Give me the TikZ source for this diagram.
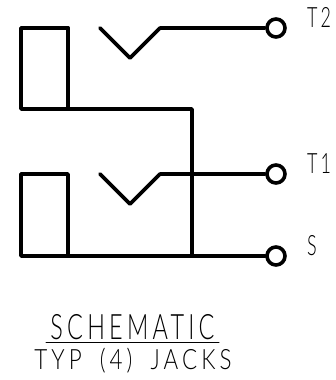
\documentclass[tikz,border=0pt]{standalone}
\usepackage{fontspec}
\setsansfont{Lato}[UprightFont=* Light]
\newfontfamily\wirefont[LetterSpace=18]{Lato Light}
\begin{document}
\begin{tikzpicture}[>=latex,line join=round,line cap=round,
  wire/.style={line width=3.6bp},
  term/.style={circle,draw,line width=3.6bp,fill=white,inner sep=0pt,minimum size=18bp},
  pin/.style={anchor=base west,inner sep=0pt,font=\wirefont\fontsize{28bp}{28bp}\selectfont,xscale=0.64},
  caption/.style={inner sep=0pt,anchor=base,font=\wirefont\fontsize{28bp}{28bp}\selectfont}]
  \useasboundingbox (0bp,0bp) rectangle (336bp,380bp);
  % Terminals
  \node[term] (tip2) at (276bp,352bp) {};
  \node[term] (tip1) at (276bp,206bp) {};
  \node[term] (sleeve) at (276bp,124bp) {};
  \node[pin] (tip2label) at (307bp,352bp) {T2};
  \node[pin] (tip1label) at (307bp,206bp) {T1};
  \node[pin] (sleevelabel) at (307bp,124bp) {S};
  % Corners
  \coordinate (upperne) at (68bp,352bp);
  \coordinate (uppernw) at (21bp,352bp);
  \coordinate (uppersw) at (21bp,271bp);
  \coordinate (upperse) at (68bp,271bp);
  \coordinate (bend) at (192bp,271bp);
  \coordinate (join) at (192bp,124bp);
  \coordinate (lowerne) at (68bp,206bp);
  \coordinate (lowernw) at (21bp,206bp);
  \coordinate (lowersw) at (21bp,124bp);
  \coordinate (lowerse) at (68bp,124bp);
  % Edge: upper sleeve -> sleeve
  \draw[wire] (upperne) -- (uppernw) -- (uppersw) -- (bend) -- (join);
  \draw[wire] (upperne) -- (upperse);
  \draw[wire] (lowerse) -- (lowerne) -- (lowernw) -- (lowersw) -- (sleeve);
  % Edge: contact -> tip
  \coordinate (upperstart) at (100bp,352bp);
  \coordinate (uppertip) at (130bp,322bp);
  \coordinate (upperknee) at (160bp,352bp);
  \draw[wire] (upperstart) -- (uppertip) -- (upperknee) -- (tip2);
  \coordinate (lowerstart) at (100bp,206bp);
  \coordinate (lowertip) at (130bp,176bp);
  \coordinate (lowerknee) at (160bp,206bp);
  \draw[wire] (lowerstart) -- (lowertip) -- (lowerknee) -- (tip1);
  % Caption
  \node[caption,font=\wirefont\fontsize{35bp}{35bp}\selectfont,xscale=0.67] (title) at (132.5bp,40bp) {SCHEMATIC};
  \coordinate (ruleleft) at (46bp,37.5bp);
  \coordinate (ruleright) at (219bp,37.5bp);
  \draw[line width=1bp] (ruleleft) -- (ruleright);
  \node[caption,xscale=0.8] (note) at (133bp,11bp) {TYP\hspace{10bp} (4)\hspace{10bp} JACKS};
\end{tikzpicture}
\end{document}
